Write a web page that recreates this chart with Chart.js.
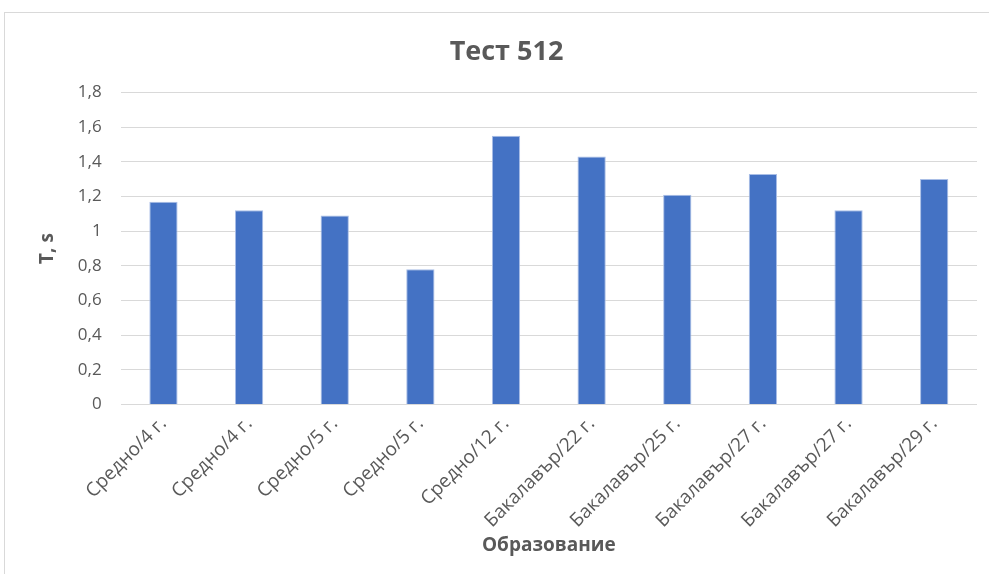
<!DOCTYPE html>
<html>
<head>
<meta charset="utf-8">
<script src="https://cdn.jsdelivr.net/npm/chart.js@4/dist/chart.umd.min.js"></script>
<style>
  html, body { margin: 0; padding: 0; background: #fff; }
  body { width: 989px; height: 574px; position: relative; overflow: hidden; }
  #frame { position: absolute; left: 4px; top: 12px; width: 990px; height: 570px;
           border: 1px solid #d9d9d9; box-sizing: border-box; }
  #wrap { position: absolute; left: 5px; top: 13px; width: 984px; height: 561px; }
</style>
</head>
<body>
<div id="frame"></div>
<div id="wrap"><canvas id="c"></canvas></div>
<script>
const categories = ["Средно/4 г.", "Средно/4 г.", "Средно/5 г.", "Средно/5 г.", "Средно/12 г.",
                    "Бакалавър/22 г.", "Бакалавър/25 г.", "Бакалавър/27 г.", "Бакалавър/27 г.", "Бакалавър/29 г."];
const values = [1.17, 1.12, 1.09, 0.78, 1.55, 1.43, 1.21, 1.33, 1.12, 1.30];
const chartTitle = "Тест 512";
const yTitle = "T, s";
const xTitle = "Образование";
const yMin = 0, yMax = 1.8, yStep = 0.2;

const font = "'Open Sans', 'Noto Sans', sans-serif";
const grey = '#595959';

new Chart(document.getElementById('c'), {
  type: 'bar',
  data: {
    labels: categories,
    datasets: [{
      data: values,
      backgroundColor: '#4472C4',
      borderColor: '#A9BEE6',
      borderWidth: 1,
      barPercentage: 0.33,
      categoryPercentage: 1.0
    }]
  },
  options: {
    responsive: true,
    maintainAspectRatio: false,
    animation: false,
    layout: { padding: { left: 31, right: 12, top: 8, bottom: 17 } },
    plugins: {
      legend: { display: false },
      tooltip: { enabled: false },
      title: {
        display: true,
        text: chartTitle,
        color: grey,
        font: { family: font, size: 27, weight: 'bold' },
        padding: { top: 15, bottom: 24 }
      }
    },
    scales: {
      x: {
        grid: { display: false },
        border: { display: false },
        ticks: {
          color: grey,
          font: { family: font, size: 19 },
          maxRotation: 45,
          minRotation: 45,
          padding: 0
        },
        title: {
          display: true,
          text: xTitle,
          color: grey,
          font: { family: font, size: 19, weight: 'bold' },
          padding: { top: 2, bottom: 0 }
        }
      },
      y: {
        min: yMin,
        max: yMax,
        grid: { color: '#d9d9d9', lineWidth: 1, drawTicks: false },
        border: { display: false },
        ticks: {
          stepSize: yStep,
          color: grey,
          font: { family: font, size: 17 },
          padding: 19,
          callback: v => (Math.round(v * 10) / 10).toString().replace('.', ',')
        },
        title: {
          display: true,
          text: yTitle,
          color: grey,
          font: { family: font, size: 19, weight: 'bold' },
          padding: { top: 0, bottom: 0 }
        }
      }
    }
  }
});
</script>
</body>
</html>
